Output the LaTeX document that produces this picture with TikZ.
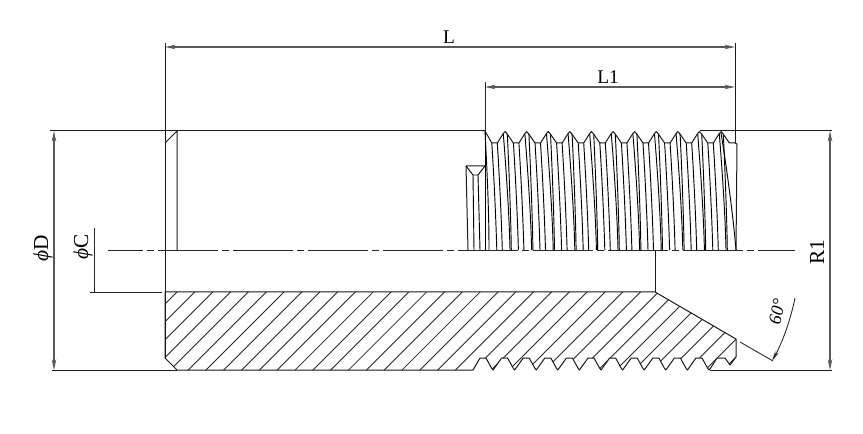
\documentclass[tikz,border=0pt]{standalone}
\usepackage{fontspec}
\setmainfont{Liberation Serif}
\usetikzlibrary{arrows.meta}
\tikzset{
    outline/.style={line width=0.75pt, black!90, line join=round},
    thin line/.style={line width=0.65pt, black!85},
    helix/.style={line width=0.7pt, black},
    dim/.style={line width=0.8pt, black!65, {Stealth[length=8pt,width=3.4pt]}-{Stealth[length=8pt,width=3.4pt]}},
    label text/.style={inner sep=0pt, font=\fontsize{14.5}{15}\selectfont},
    big label/.style={inner sep=0pt, font=\fontsize{16}{16}\selectfont},
}
\newcommand{\sectionoutline}{(165,292) -- (655,292) -- (736,339) -- (736,357) -- (730,365) -- (725,358)
    -- (717,358) -- (710,369)
    \foreach \k in {10,...,0} {
        \pgfextra{\pgfmathsetmacro{\xa}{493+21.6*\k}}
        -- (\xa+1.5,368) -- (\xa,370) -- (\xa-1.5,368) -- (\xa-7,358) -- (\xa-13,358)
    }
    -- (473,370) -- (177,370) -- (165,358) -- cycle}
\begin{document}
\begin{tikzpicture}[x=0.75pt,y=-0.75pt]
    \useasboundingbox (0,0) rectangle (863,434);

    % hatching of the cut part
    \begin{scope}
        \clip \sectionoutline;
        \foreach \k in {0,...,36} {
            \pgfmathsetmacro{\s}{469+17.83*\k}
            \draw[thin line] (\s-380,380) -- (\s-280,280);
        }
    \end{scope}
    \draw[outline] \sectionoutline;

    % upper half: thread helix
    \foreach \k in {0,...,10} {
        \pgfmathsetmacro{\xa}{491.8+21.6*\k}
        \draw[helix] (\xa,143) .. controls (\xa+2,175) and (\xa+4,215) .. (\xa+5,250);
        \draw[helix] (\xa+5.5,143) .. controls (\xa+7.5,175) and (\xa+9.5,215) .. (\xa+10.5,250);
        \draw[helix] (\xa+11.5,134) .. controls (\xa+14,165) and (\xa+17.5,215) .. (\xa+18.2,250);
        \draw[helix] (\xa+15.5,134) .. controls (\xa+17,165) and (\xa+19,215) .. (\xa+19.5,250);
    }
    \draw[helix] (485,131) .. controls (487,170) and (489,210) .. (489,250);
    \draw[helix] (485,131) -- (485,250);

    % upper half: thread profile
    \draw[outline] (485,131) -- (491.8,143)
        \foreach \k in {0,...,10} {
            \pgfextra{\pgfmathsetmacro{\xa}{491.8+21.6*\k}}
            -- (\xa+5.5,143) -- (\xa+11.5,133.5) .. controls (\xa+12.5,131) and (\xa+14,131) .. (\xa+15,133.5) -- (\xa+21.6,143)
        }
        -- (735,143) -- (737,144) -- (736,250);
    \draw[helix] (721,133) .. controls (727,170) and (733,215) .. (736,250);

    % undercut groove
    \draw[outline] (468,250) -- (466,166) -- (485,166);
    \draw[helix] (466,166) -- (473,175) -- (478,175) -- (485,166);
    \draw[helix] (473,175) -- (474,250);
    \draw[helix] (478,175) -- (480,250);

    % body
    \draw[outline] (50,131) -- (485,131);
    \draw[outline] (700,131) -- (832,131);
    \draw[outline] (52,370) -- (177,370);
    \draw[outline] (710,370) -- (832,370);
    \draw[outline] (165,43) -- (165,358);
    \draw[outline] (165,143) -- (177,131) -- (177,250);
    \draw[outline] (655,250) -- (655,292);
    \draw[outline] (735,43) -- (735,143);

    % centre line
    \draw[thin line, dash pattern=on 45pt off 3pt on 5.25pt off 3pt, dash phase=18.75pt] (108,250) -- (795,250);

    % dimensions
    \draw[dim] (165,47) -- (735,47);
    \node[label text] (labelL) at (449,37) {L};
    \draw[thin line] (485,82) -- (485,131);
    \draw[dim] (485,87) -- (735,87);
    \node[label text] (labelLone) at (608,77) {L1};
    \draw[dim] (54,131) -- (54,370);
    \node[big label, rotate=90] (labelD) at (43,248) {{\itshape ϕ}D};
    \draw[thin line] (94,228) -- (94,292) -- (162,292);
    \draw[thin line] (90,292) -- (94,292);
    \node[big label, rotate=90] (labelC) at (83,247) {{\itshape ϕ}C};
    \draw[dim] (830,131) -- (830,370);
    \node[big label, rotate=90] (labelR) at (817,252) {R1};

    % cone angle
    \draw[thin line] (740,342) -- (773,361);
    \draw[thin line, -{Stealth[length=8pt,width=3pt]}] (795,298) .. controls (790,322) and (782,343) .. (772,361);
    \node[label text, rotate=78, font=\fontsize{13.5}{14}\selectfont\itshape] (labelAngle) at (777,312) {60°};
\end{tikzpicture}
\end{document}
